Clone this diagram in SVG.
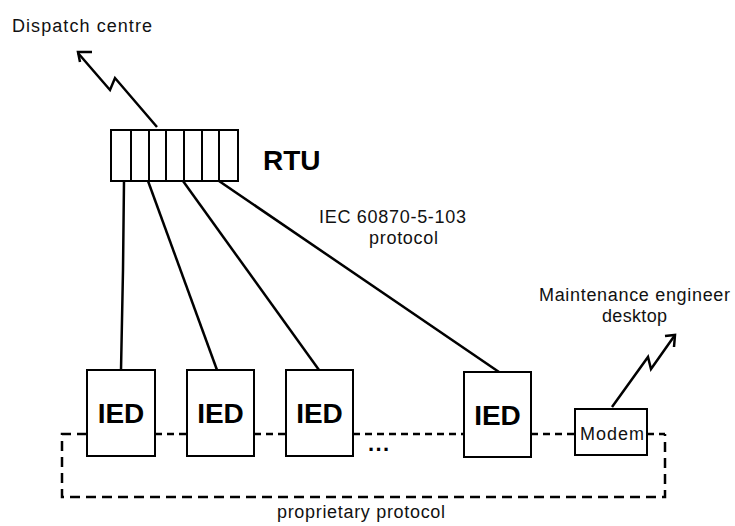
<svg xmlns="http://www.w3.org/2000/svg" width="735" height="526" viewBox="0 0 735 526">
<style>
.t{font-family:"Liberation Sans",Arial,sans-serif;font-size:18px;fill:#111}
.b{font-family:"Liberation Sans",Arial,sans-serif;font-size:28px;font-weight:bold;fill:#000}
.box{fill:#fff;stroke:#000;stroke-width:2}
.ln{fill:none;stroke:#000;stroke-width:2.5}
.bus{fill:none;stroke:#000;stroke-width:2.5;stroke-dasharray:10 6}
.bus2{fill:none;stroke:#000;stroke-width:2.5;stroke-dasharray:7 5}
</style>
<rect width="735" height="526" fill="#fff"/>
<text class="t" x="12" y="32" textLength="140">Dispatch centre</text>
<g id="connectors">
<path class="ln" d="M124,181 L123,270 L121,370"/>
<path class="ln" d="M148,181 L217,370"/>
<path class="ln" d="M183,181 L319,370"/>
<path class="ln" d="M219,181 L499,372"/>
<path class="ln" d="M157,127 L115,78 L110,90 L78,53"/>
<path class="ln" d="M92,52 L78,52 L80,62"/>
<path class="ln" d="M612,407 L648,357 L651,369 L675,335"/>
<path class="ln" d="M665,336 L675,335 L674,347"/>
<path class="bus" d="M87,434 H62 V497 H665 V434"/>
<path class="bus2" d="M155,434 H187 M254,434 H286 M353,434 H464 M531,434 H575 M647,434 H665"/>
</g>
<g id="rtu">
<rect class="box" x="111" y="130" width="127" height="51"/>
<path d="M131,130 V181 M149,130 V181 M166,130 V181 M184,130 V181 M202,130 V181 M219,130 V181" stroke="#000" stroke-width="2"/>
<text class="b" x="263" y="170">RTU</text>
</g>
<text class="t" x="319" y="223" textLength="147">IEC 60870-5-103</text>
<text class="t" x="369" y="244" textLength="69">protocol</text>
<text class="t" x="539" y="301" textLength="191">Maintenance engineer</text>
<text class="t" x="602" y="322" textLength="65">desktop</text>
<g id="ied1"><rect class="box" x="87" y="370" width="68" height="86"/><text class="b" x="121" y="423" text-anchor="middle">IED</text></g>
<g id="ied2"><rect class="box" x="187" y="370" width="67" height="86"/><text class="b" x="220.5" y="423" text-anchor="middle">IED</text></g>
<g id="ied3"><rect class="box" x="286" y="370" width="67" height="86"/><text class="b" x="319.5" y="423" text-anchor="middle">IED</text></g>
<g id="ied4"><rect class="box" x="464" y="372" width="67" height="85"/><text class="b" x="497.5" y="425" text-anchor="middle">IED</text></g>
<g id="modem"><rect class="box" x="575" y="409" width="72" height="46"/><text class="t" x="580" y="440" textLength="64">Modem</text></g>
<text x="368" y="451" font-family="Liberation Sans,Arial,sans-serif" font-size="22" font-weight="bold" textLength="21">...</text>
<text class="t" x="277" y="518" textLength="168">proprietary protocol</text>
</svg>
